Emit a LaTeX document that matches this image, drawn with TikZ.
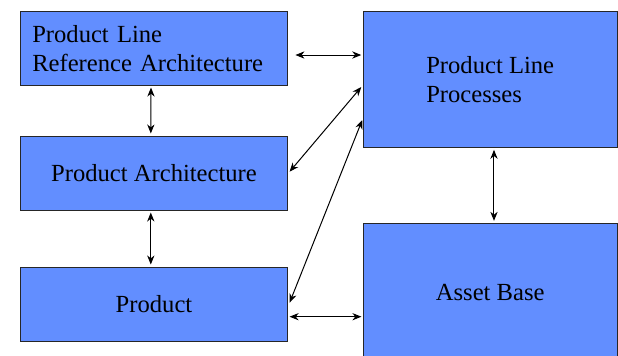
\documentclass[tikz,border=0pt]{standalone}
\usepackage{fontspec}
\setmainfont{Liberation Serif}
\newfontfamily\figfont{Liberation Serif}
\usetikzlibrary{arrows.meta}
\definecolor{boxblue}{RGB}{98,142,255}

\begin{document}
\begin{tikzpicture}[x=0.5pt,y=-0.5pt,
  font=\figfont\fontsize{12.3}{14.5}\selectfont,
  blk/.style={draw=black!85,fill=boxblue,line width=0.5pt,inner sep=0pt,align=left},
  link/.style={{Stealth[length=4.5pt,width=3.6pt,inset=1.4pt]}-{Stealth[length=4.5pt,width=3.6pt,inset=1.4pt]},line width=0.5pt}]

\clip (0,0) rectangle (618,355);

\node[blk,minimum width=133.5pt,minimum height=36.75pt,inner xsep=5.8pt,text width=121.9pt] (prla) at (154.2,48.3) {Product Line\\Reference Architecture};
\node[blk,minimum width=133.5pt,minimum height=37pt] (pa) at (154,173) {Product Architecture};
\node[blk,minimum width=133.5pt,minimum height=37pt] (prod) at (154,304) {Product};
\node[blk,minimum width=126.85pt,minimum height=67.8pt] (plp) at (490.2,79.5) {Product Line\\Processes};
\node[blk,minimum width=126.85pt,minimum height=68.85pt] (ab) at (490.2,292.2) {Asset Base};

\coordinate (r1) at ([shift={(3.6pt,-3.35pt)}]prla.east);
\coordinate (r2) at ([shift={(0.8pt,-6.35pt)}]prod.east);

\draw[link] (r1) -- ([xshift=-0.8pt]r1 -| plp.west);
\draw[link] ([shift={(-1.6pt,-1pt)}]prla.south) -- ([shift={(-1.6pt,1pt)}]pa.north);
\draw[link] ([shift={(-1.6pt,-1pt)}]pa.south) -- ([shift={(-1.6pt,1pt)}]prod.north);
\draw[link] ([shift={(1.9pt,-1pt)}]plp.south) -- ([shift={(1.9pt,1pt)}]ab.north);
\draw[link] (r2) -- ([xshift=-0.7pt]r2 -| ab.west);
\draw[link] ([shift={(-0.8pt,-3.75pt)}]plp.west) -- ([shift={(0.8pt,0.65pt)}]pa.east);
\draw[link] ([shift={(-0.3pt,-20.25pt)}]plp.west) -- ([shift={(0.8pt,0.65pt)}]prod.east);

\end{tikzpicture}
\end{document}
